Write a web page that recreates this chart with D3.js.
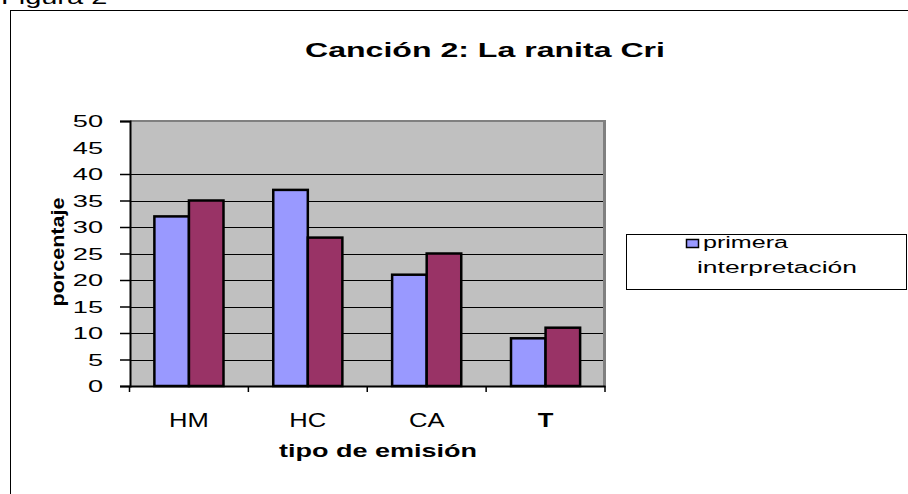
<!DOCTYPE html>
<html>
<head>
<meta charset="utf-8">
<script src="https://cdn.jsdelivr.net/npm/d3@7"></script>
<style>
  html, body { margin: 0; padding: 0; background: #fff; }
  svg { display: block; font-family: "Liberation Sans", Arial, sans-serif; }
</style>
</head>
<body>
<svg id="chart" width="908" height="494"></svg>
<script>
const categories = ["HM", "HC", "CA", "T"];
const seriesNames = ["primera interpretación", "segunda interpretación"];
const primera = [32, 37, 21, 9];
const segunda = [35, 28, 25, 11];
const yTicks = [0, 5, 10, 15, 20, 25, 30, 35, 40, 45, 50];
const gridValues = [5, 10, 15, 20, 25, 30, 35, 40];
const tickMarkValues = [0, 5, 10, 15, 20, 25, 30, 35, 40, 50];
const colors = ["#9999FF", "#993366"];

const svg = d3.select("#chart");

// Outer frame
svg.append("rect").attr("x", 10.5).attr("y", 10.5).attr("width", 920).attr("height", 520)
  .attr("fill", "none").attr("stroke", "#000").attr("stroke-width", 1);

// Stretched text helper
function stext(parent, x, y, str, opts) {
  const g = parent.append("g").attr("transform", `translate(${x},${y}) scale(${opts.sx || 1},1)`);
  const t = g.append("text").attr("x", 0).attr("y", 0)
    .attr("font-size", opts.size).attr("font-weight", opts.weight || "normal")
    .attr("text-anchor", opts.anchor || "middle").attr("fill", "#000")
    .text(str);
  if (opts.dy) t.attr("dy", opts.dy);
  return g;
}

stext(svg, 1, 4, "Figura 2", { size: 20, sx: 1.45, anchor: "start" });

// Title
svg.append("text").attr("x", 305).attr("y", 57).attr("font-size", 21).attr("font-weight", "bold")
  .attr("textLength", 360).attr("lengthAdjust", "spacingAndGlyphs").text("Canción 2: La ranita Cri");

// Scales
const plot = { left: 130, right: 604.5, top: 121, bottom: 386 };
const y = d3.scaleLinear().domain([0, 50]).range([plot.bottom, plot.top]);
const x = d3.scaleBand().domain(categories).range([129.5, 605]).padding(0);
const xs = d3.scaleBand().domain(seriesNames).range([0, x.bandwidth()]).paddingInner(0).paddingOuter(0.72);

// Plot area
svg.append("rect").attr("x", plot.left).attr("y", plot.top)
  .attr("width", plot.right - plot.left).attr("height", plot.bottom - plot.top).attr("fill", "#C0C0C0");

// Gridlines
svg.append("g").selectAll("line").data(gridValues).join("line")
  .attr("x1", plot.left).attr("x2", plot.right)
  .attr("y1", d => Math.round(y(d)) + 0.5).attr("y2", d => Math.round(y(d)) + 0.5)
  .attr("stroke", "#000").attr("stroke-width", 1);

// Top & right gray borders
svg.append("line").attr("x1", plot.left).attr("x2", plot.right + 1.5).attr("y1", plot.top).attr("y2", plot.top)
  .attr("stroke", "#808080").attr("stroke-width", 2);
svg.append("line").attr("x1", plot.right).attr("x2", plot.right).attr("y1", plot.top).attr("y2", plot.bottom)
  .attr("stroke", "#808080").attr("stroke-width", 3);

// Bars
const seriesData = [primera, segunda];
seriesData.forEach((vals, si) => {
  svg.append("g").selectAll("rect").data(vals).join("rect")
    .attr("x", (d, i) => x(categories[i]) + xs(seriesNames[si]))
    .attr("y", d => y(d))
    .attr("width", xs.bandwidth())
    .attr("height", d => y(0) - y(d))
    .attr("fill", colors[si])
    .attr("stroke", "#000").attr("stroke-width", 2.5);
});

// Y axis
const yAxis = d3.axisLeft(y).tickValues(tickMarkValues).tickSize(10).tickFormat("");
const yg = svg.append("g").attr("transform", `translate(${plot.left},0)`).call(yAxis);
yg.select(".domain").attr("stroke", "#000").attr("stroke-width", 2);
yg.selectAll(".tick line").attr("stroke", "#000").attr("stroke-width", 1.5);

yTicks.forEach(v => {
  stext(svg, 103, y(v), String(v), { size: 17, sx: 1.6, anchor: "end", dy: "0.36em" });
});

// X axis
const xAxis = d3.axisBottom(x).tickSize(0).tickFormat("");
const xg = svg.append("g").attr("transform", `translate(0,${plot.bottom})`).call(xAxis);
xg.select(".domain").attr("stroke", "#000").attr("stroke-width", 2);
const bounds = categories.map(c => x(c)).concat([x.range()[1]]);
svg.append("g").selectAll("line").data(bounds).join("line")
  .attr("x1", d => d).attr("x2", d => d).attr("y1", plot.bottom).attr("y2", plot.bottom + 6)
  .attr("stroke", "#000").attr("stroke-width", 1.5);

categories.forEach(c => {
  stext(svg, x(c) + x.bandwidth() / 2, 427, c, { size: 20, sx: 1.28, weight: c === "T" ? "bold" : "normal" });
});

// Axis titles
svg.append("text").attr("x", 378).attr("y", 457).attr("text-anchor", "middle")
  .attr("font-size", 19).attr("font-weight", "bold")
  .attr("textLength", 198).attr("lengthAdjust", "spacingAndGlyphs").text("tipo de emisión");

svg.append("text").attr("transform", "translate(64,252) rotate(-90)").attr("text-anchor", "middle")
  .attr("font-size", 18).attr("font-weight", "bold")
  .attr("textLength", 109).attr("lengthAdjust", "spacingAndGlyphs").text("porcentaje");

// Legend (only first entry visible in original)
const lg = svg.append("g");
lg.append("rect").attr("x", 626.5).attr("y", 234.5).attr("width", 280).attr("height", 55)
  .attr("fill", "#fff").attr("stroke", "#000").attr("stroke-width", 1);
lg.append("rect").attr("x", 686.5).attr("y", 239.5).attr("width", 12).attr("height", 8)
  .attr("fill", colors[0]).attr("stroke", "#000").attr("stroke-width", 1.5);
lg.append("text").attr("x", 703).attr("y", 248).attr("font-size", 16)
  .attr("textLength", 85).attr("lengthAdjust", "spacingAndGlyphs").text("primera");
lg.append("text").attr("x", 697).attr("y", 273).attr("font-size", 16)
  .attr("textLength", 160).attr("lengthAdjust", "spacingAndGlyphs").text("interpretación");
</script>
</body>
</html>
